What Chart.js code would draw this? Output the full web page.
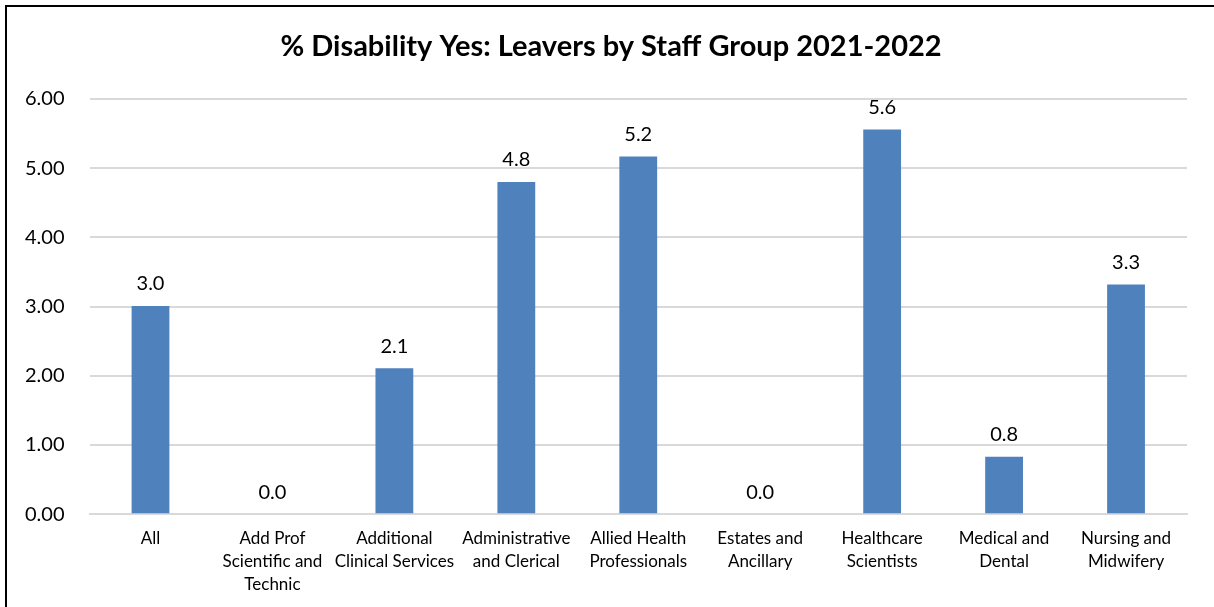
<!DOCTYPE html>
<html lang="en">
  <head>
    <meta charset="UTF-8" />
    <title>Leavers by Staff Group</title>
    <script src="https://cdn.jsdelivr.net/npm/chart.js"></script>
    <style>
      body { margin: 0; background: #fff; overflow: hidden; }
      #frame {
        position: absolute; left: 5px; top: 5px;
        width: 1400px; height: 800px;
        border: 2px solid #000;
      }
      #wrap { position: absolute; left: 0; top: 0; width: 1214px; height: 607px; }
    </style>
  </head>
  <body>
    <div id="frame"></div>
    <div id="wrap"><canvas id="chart"></canvas></div>
    <script>
      const chartTitle = "% Disability Yes: Leavers by Staff Group 2021-2022";
      const staffGroups = [
        "All",
        ["Add Prof", "Scientific and", "Technic"],
        ["Additional", "Clinical Services"],
        ["Administrative", "and Clerical"],
        ["Allied Health", "Professionals"],
        ["Estates and", "Ancillary"],
        ["Healthcare", "Scientists"],
        ["Medical and", "Dental"],
        ["Nursing and", "Midwifery"],
      ];
      const disabilityPct = [3.01, 0, 2.11, 4.8, 5.17, 0, 5.56, 0.83, 3.32];

      const fontFamily = "Lato, 'Open Sans', sans-serif";

      // title centred on the whole frame rather than the padded chart box
      const frameTitle = {
        id: "frameTitle",
        afterDraw(chart) {
          const ctx = chart.ctx;
          ctx.save();
          ctx.font = "bold 29px " + fontFamily;
          ctx.fillStyle = "#000";
          ctx.textAlign = "center";
          ctx.textBaseline = "middle";
          ctx.fillText(chartTitle, 611, 47);
          ctx.restore();
        },
      };

      // writes the value above each bar
      const valueLabels = {
        id: "valueLabels",
        afterDatasetsDraw(chart) {
          const ctx = chart.ctx;
          const meta = chart.getDatasetMeta(0);
          ctx.save();
          ctx.font = "20px " + fontFamily;
          ctx.fillStyle = "#000";
          ctx.textAlign = "center";
          ctx.textBaseline = "bottom";
          meta.data.forEach((bar, i) => {
            ctx.fillText(disabilityPct[i].toFixed(1), bar.x, bar.y - 12);
          });
          ctx.restore();
        },
      };

      new Chart(document.getElementById("chart"), {
        type: "bar",
        data: {
          labels: staffGroups,
          datasets: [
            {
              data: disabilityPct,
              backgroundColor: "#4f81bd",
              barPercentage: 0.62,
              categoryPercentage: 0.5,
            },
          ],
        },
        options: {
          responsive: true,
          maintainAspectRatio: false,
          animation: false,
          layout: { padding: { top: 99, right: 27, left: 0, bottom: -2 } },
          plugins: {
            legend: { display: false },
            tooltip: { enabled: false },
            title: { display: false },
          },
          scales: {
            y: {
              min: 0,
              max: 6,
              ticks: {
                stepSize: 1,
                color: "#000",
                padding: 25,
                font: { family: fontFamily, size: 20 },
                callback: (v) => v.toFixed(2),
              },
              grid: { color: "#d9d9d9", lineWidth: 2, drawTicks: false },
              border: { display: false },
            },
            x: {
              ticks: {
                color: "#000",
                padding: 13,
                maxRotation: 0,
                autoSkip: false,
                font: { family: fontFamily, size: 17, lineHeight: 1.35 },
              },
              grid: { display: false, drawTicks: false },
              border: { color: "#d9d9d9", width: 2 },
            },
          },
        },
        plugins: [valueLabels, frameTitle],
      });
    </script>
  </body>
</html>
